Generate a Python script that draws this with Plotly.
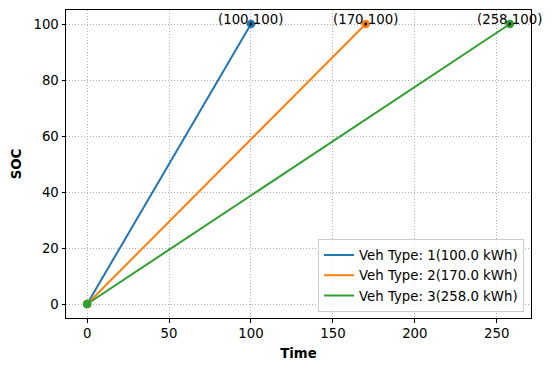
import plotly.graph_objects as go

veh_types = [1, 2, 3]
capacities_kwh = [100.0, 170.0, 258.0]
start_time = [0, 0, 0]
end_time = [100, 170, 258]
start_soc = [0, 0, 0]
end_soc = [100, 100, 100]
colors = ["#1f77b4", "#ff7f0e", "#2ca02c"]

FONT = "DejaVu Sans"
fig = go.Figure()

for vt, cap, t0, t1, s0, s1, c in zip(veh_types, capacities_kwh, start_time, end_time, start_soc, end_soc, colors):
    fig.add_trace(go.Scatter(
        x=[t0, t1], y=[s0, s1], mode="lines",
        line=dict(color=c, width=2),
        name=f"Veh Type: {vt}({cap:.1f} kWh)",
    ))
for vt, cap, t0, t1, s0, s1, c in zip(veh_types, capacities_kwh, start_time, end_time, start_soc, end_soc, colors):
    fig.add_trace(go.Scatter(
        x=[t0, t1], y=[s0, s1], mode="markers",
        marker=dict(color=c, size=8.5, line=dict(width=0)),
        showlegend=False, hoverinfo="skip", cliponaxis=False,
    ))
    fig.add_trace(go.Scatter(
        x=[t1], y=[s1], mode="markers",
        marker=dict(color="black", size=2.5, line=dict(width=0)),
        showlegend=False, hoverinfo="skip", cliponaxis=False,
    ))
    fig.add_annotation(
        x=t1, y=s1, xref="x", yref="y",
        text=f"({t1},{s1})", showarrow=False,
        xanchor="center", yanchor="middle", yshift=5,
        font=dict(family=FONT, size=13.3, color="black"),
    )

axis_common = dict(
    showline=True, linecolor="black", linewidth=1, mirror=True,
    ticks="outside", ticklen=3.5, tickwidth=1, tickcolor="black",
    showgrid=True, gridcolor="#b0b0b0", griddash="1px,2px", gridwidth=0.8,
    zeroline=False, automargin=False,
    tickfont=dict(family=FONT, size=13.3, color="black"),
)

fig.update_xaxes(
    range=[-12.9, 270.9], tickvals=[0, 50, 100, 150, 200, 250],
    title=dict(text="<b>Time</b>", font=dict(family=FONT, size=13.3, color="black"), standoff=8),
    **axis_common,
)
fig.update_yaxes(
    range=[-5, 105], tickvals=[0, 20, 40, 60, 80, 100],
    title=dict(text="<b>SOC</b>", font=dict(family=FONT, size=13.3, color="black"), standoff=8),
    **axis_common,
)

fig.update_layout(
    width=545, height=363,
    margin=dict(l=58, r=22, t=2, b=53),
    paper_bgcolor="white", plot_bgcolor="white",
    font=dict(family=FONT, size=13.3, color="black"),
    legend=dict(
        x=0.985, y=0.02, xanchor="right", yanchor="bottom",
        bgcolor="rgba(255,255,255,0.8)", bordercolor="#cccccc", borderwidth=1,
        font=dict(family=FONT, size=13.3, color="black"),
        tracegroupgap=0, itemwidth=30,
    ),
    showlegend=True,
)

fig.write_html("out.html")
